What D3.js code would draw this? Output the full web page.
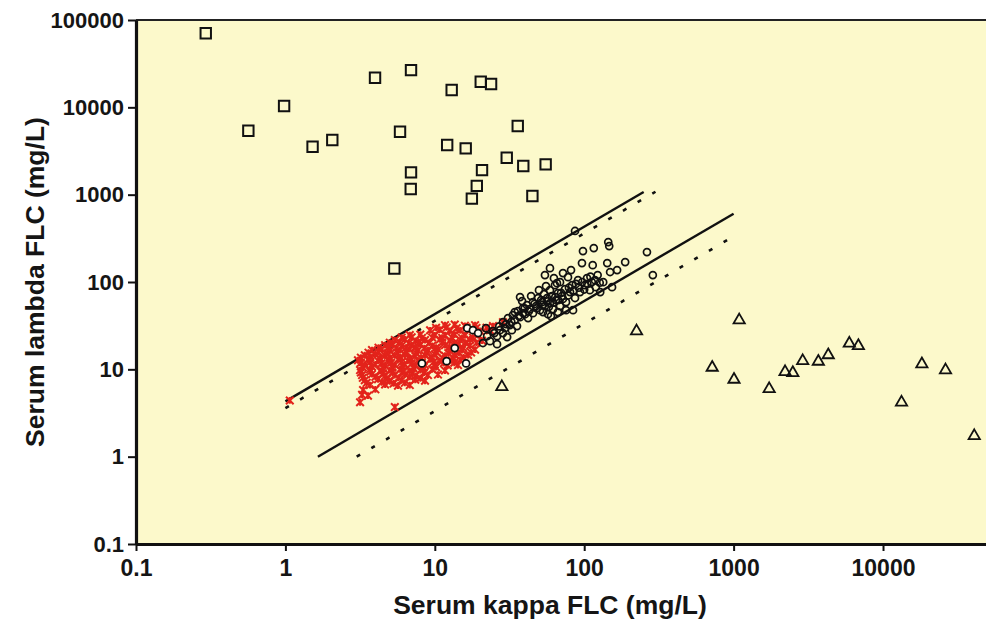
<!DOCTYPE html>
<html><head><meta charset="utf-8">
<script src="https://cdn.jsdelivr.net/npm/d3@7"></script>
<style>
html,body{margin:0;padding:0;background:#fff;}
svg{display:block;}
text{font-family:"Liberation Sans",Arial,sans-serif;font-weight:bold;fill:#151515;}
</style></head><body>
<svg id="chart" width="986" height="628"></svg>
<script>
// ---------- data ----------
const xTicks = [0.1, 1, 10, 100, 1000, 10000];
const xTickLabels = ["0.1", "1", "10", "100", "1000", "10000"];
const yTicks = [0.1, 1, 10, 100, 1000, 10000, 100000];
const yTickLabels = ["0.1", "1", "10", "100", "1000", "10000", "100000"];
const xTitle = "Serum kappa FLC (mg/L)";
const yTitle = "Serum lambda FLC (mg/L)";
const xDomain = [0.1, 48900];
const yDomain = [0.1, 100000];

// reference range lines [kappa, lambda]
const upperSolid = [[1, 4.3], [250, 1075]];
const lowerSolid = [[1.65, 1], [1000, 606]];
const upperDotted = [[1, 3.6], [300, 1080]];
const lowerDotted = [[3, 1], [1000, 333]];

// lambda myeloma (squares)
const lambdaSquares = [
  [0.293, 70500], [0.565, 5400], [0.98, 10350], [1.52, 3540], [2.06, 4220],
  [3.98, 21800], [6.93, 26700], [5.85, 5250], [6.93, 1800], [6.9, 1160],
  [12.97, 15800], [20.3, 19600], [23.8, 18500], [12.1, 3700], [16.1, 3390],
  [20.7, 1910], [19.1, 1260], [17.7, 900], [5.36, 143], [35.9, 6110],
  [30.3, 2650], [39.1, 2130], [55.2, 2220], [45.0, 964]
];

// kappa myeloma (triangles)
const kappaTriangles = [
  [224, 27.4], [28.1, 6.3], [1090, 36.6], [719, 10.5], [1006, 7.65],
  [1730, 5.98], [2210, 9.35], [2490, 9.12], [2900, 12.5], [3690, 12.3],
  [4300, 14.6], [5950, 19.8], [6840, 18.6], [13300, 4.18], [18200, 11.5],
  [26200, 9.8], [40800, 1.73]
];

// normal sera (red crosses)
const normalCrosses = [
  [11.7,32],[13.6,32.5],[15.9,31.5],[18.6,32],
  [10.2,29.9],[12.0,30.2],[14.0,29.6],[16.3,30.1],[19.0,29.8],[22.2,30],
  [9.3,28],[10.8,28.5],[12.6,27.5],[14.8,28],[17.2,28.5],[20.1,27.5],[23.4,28],
  [6.8,24.7],[8.0,25],[10,24.5],[11.7,24.7],[13.6,25],[15.9,24.5],[19.5,24.7],
  [6.0,23.1],[7.0,23.3],[8.2,22.9],[9.6,23.2],[11.2,23],[13.0,23.2],[15.2,22.9],[18.0,23.1],
  [5.4,21.6],[6.3,22],[7.4,21.2],[8.6,21.6],[10.8,22],[12.6,21.2],[14.8,21.6],[17.2,22],[20.7,21.3],
  [5.0,20.2],[5.8,20.4],[6.7,20],[7.8,20.3],[9.2,20.1],[11.2,20.3],[13.5,20],[16.0,20.2],[19.0,20.1],
  [4.65,18.9],[5.25,19.3],[6.0,18.6],[7.0,18.9],[8.0,19.3],[9.6,18.6],[11.7,18.9],[14.3,19.2],[17.2,18.7],
  [4.2,17.7],[4.9,17.9],[5.5,17.5],[6.4,17.7],[7.4,17.9],[8.5,17.5],[10.2,17.7],[12.5,17.9],[15.5,17.6],
  [3.8,16.6],[4.4,16.9],[5.0,16.3],[5.85,16.6],[6.8,17],[7.7,16.4],[9.0,16.6],[10.5,16.9],[12.6,16.3],[15.2,16.6],[18.6,16.8],
  [3.6,15.5],[4.2,15.7],[4.8,15.3],[5.6,15.5],[6.5,15.7],[7.5,15.3],[8.8,15.5],[10.3,15.7],[12.3,15.3],[14.5,15.5],[17.5,15.6],
  [3.4,14.5],[4.0,14.8],[4.65,14.3],[5.4,14.5],[6.3,14.8],[7.4,14.2],[8.6,14.5],[10,14.8],[11.7,14.3],[13.6,14.5],[16.7,14.6],
  [3.2,13.6],[3.7,13.8],[4.3,13.4],[5.0,13.6],[5.9,13.8],[6.9,13.4],[8.1,13.6],[9.6,13.8],[11.3,13.4],[13.3,13.6],[15.6,13.7],
  [3.06,12.7],[3.57,13],[4.17,12.5],[4.86,12.7],[5.67,13],[6.6,12.5],[7.7,12.7],[9.3,13],[10.8,12.5],[13.0,12.7],[14.8,12.9],
  [3.2,11.9],[3.7,12.1],[4.4,11.7],[5.1,11.9],[6.0,12.1],[7.0,11.7],[8.2,11.9],[9.8,12.1],[11.5,11.8],[13.5,11.9],
  [3.4,11.2],[4.0,11.4],[4.65,11],[5.4,11.2],[6.3,11.4],[7.4,11],[8.6,11.2],[10,11.4],[12.2,11.1],[14.3,11.2],
  [3.3,10.5],[3.8,10.7],[4.5,10.3],[5.2,10.5],[6.1,10.7],[7.2,10.3],[8.4,10.5],[10.2,10.6],
  [3.16,9.8],[3.68,10],[4.3,9.6],[5.0,9.8],[5.85,10],[6.8,9.6],[8.0,9.8],[9.6,10],[11.7,9.7],
  [3.2,9.2],[3.7,9.4],[4.5,9.0],[5.2,9.2],[6.1,9.4],[7.1,9.0],[8.5,9.2],
  [3.26,8.6],[3.8,8.8],[4.65,8.4],[5.4,8.6],[6.3,8.8],[7.4,8.4],[9.0,8.6],[10.5,8.7],
  [3.3,8.0],[4.0,8.2],[4.8,7.8],[5.7,8.0],[6.8,8.2],[8.0,7.9],
  [3.4,7.5],[4.17,7.7],[5.0,7.3],[6.0,7.5],[7.4,7.6],[8.6,7.4],
  [3.5,7.0],[4.4,7.1],[5.3,6.9],[6.3,7.0],
  [3.68,6.6],[4.65,6.7],[5.67,6.5],[6.8,6.6],
  [3.31,5.8],[4.0,5.9],[3.26,5.1],[3.57,5.0],[3.16,4.2],
  [1.07,4.4],[5.4,3.7],[28.6,34.7],[24.5,31.3]
];

// other sera (black open circles)
const otherCircles = [
  [8.2,11.7],[12.0,12.4],[13.6,17.5],[16.2,11.7],[16.5,29.6],[18.0,28.1],[19.5,26.0],[21.0,20.0],
  [22.4,24.0],[23.4,21.0],[24.5,27.4],[26.1,24.0],[27.3,28.1],[28.6,34.7],[29.5,29.6],[30.9,38.6],
  [31.8,32.1],[33.3,41.7],[34.3,36.6],[36.0,46.4],[37.2,67.2],[37.2,39.6],[38.9,50.2],[40.2,42.8],
  [41.4,54.4],[42.1,38.6],[43.4,48.9],[45.4,58.9],[45.4,44.0],[47.6,53.0],[49.1,65.5],[50.6,47.6],
  [52.2,58.9],[53.8,72.6],[54.6,53.0],[56.4,65.5],[57.2,42.8],[59.0,80.7],[59.0,57.4],[60.8,69.0],
  [61.8,48.9],[63.7,92.0],[64.7,62.1],[66.7,74.6],[68.9,53.0],[68.9,99.6],[71.0,69.0],[74.4,82.9],
  [75.6,58.9],[77.9,113.6],[80.4,76.6],[82.9,92.0],[84.2,47.6],[86.8,65.5],[90.9,105],[93.7,76.6],
  [96.6,164.5],[98.1,226],[101,92.0],[104.4,110.7],[109,80.7],[112.4,99.6],[114,156],[115.9,244.5],
  [119.6,87.3],[123,120],[128,76.6],[142.6,164.5],[144.8,286.5],[149,130],[153.6,87.3],[166,137],
  [188,168.9],[263,220],[288,120],[86.8,384],[59,144],[54.6,120],[65.7,97],[134,99.6],[147,258],
  [34.3,45.2],[38.4,60.5],[44.1,69.0],[49.8,80.7],[55.5,89.7],[62.7,110.7],[72.1,126.6],[81.6,137],
  [53.0,45.2],[59.9,40.7],[66.7,45.2],[75.6,47.6],[28.6,26.0],[26.1,19.4],[30.5,23.4],[32.8,28.1],
  [35.5,31.3],[22.0,29.6],
  [40,50],[42.5,46],[46.5,56],[48,50],[51.5,62],[53,55],[57,60],[58,52],[62,58],[64,67],
  [67,62],[70,75],[72,64],[78,70],[79,86],[85,80],[88,95],[92,86],[97,100],[100,82],
  [105,95],[110,115],[118,105],[127,98],[30,33],[32.5,35],[27,31],[25,26],[36.5,41],[39,44]
];

// ---------- drawing ----------
const svg = d3.select("#chart");
const x = d3.scaleLog().domain(xDomain).range([136, 986]);
const y = d3.scaleLog().domain(yDomain).range([544, 20]);

svg.append("rect").attr("x", 0).attr("y", 0).attr("width", 986).attr("height", 628).attr("fill", "#ffffff");
svg.append("rect")
  .attr("x", x(xDomain[0])).attr("y", y(yDomain[1]))
  .attr("width", x(xDomain[1]) - x(xDomain[0]))
  .attr("height", y(yDomain[0]) - y(yDomain[1]))
  .attr("fill", "#fcf9cb");

// top border
svg.append("line")
  .attr("x1", x(xDomain[0])).attr("x2", x(xDomain[1]))
  .attr("y1", y(yDomain[1])).attr("y2", y(yDomain[1]))
  .attr("stroke", "#222").attr("stroke-width", 2);

const line = d3.line().x(d => x(d[0])).y(d => y(d[1]));
const g = svg.append("g");
[[upperSolid, null], [lowerSolid, null], [upperDotted, "4,13"], [lowerDotted, "4,13"]].forEach(([data, dash]) => {
  const p = g.append("path").datum(data).attr("d", line)
    .attr("fill", "none").attr("stroke", "#111").attr("stroke-width", dash ? 2.6 : 2.4);
  if (dash) p.attr("stroke-dasharray", dash);
});

// red crosses
g.selectAll(".nc").data(normalCrosses).join("path")
  .attr("class", "nc")
  .attr("transform", d => `translate(${x(d[0])},${y(d[1])})`)
  .attr("d", "M-3.8,-3.8L3.8,3.8M-3.8,3.8L3.8,-3.8M0,-3.4L0,3.4")
  .attr("stroke", "#e3231b").attr("stroke-width", 2).attr("fill", "none");

// black circles
g.selectAll(".oc").data(otherCircles).join("circle")
  .attr("class", "oc")
  .attr("cx", d => x(d[0])).attr("cy", d => y(d[1])).attr("r", 3.5)
  .attr("fill", "#fffef2").attr("fill-opacity", d => d[0] < 20 ? 1 : 0)
  .attr("stroke", "#111").attr("stroke-width", 1.7);

// squares
g.selectAll(".sq").data(lambdaSquares).join("path")
  .attr("class", "sq")
  .attr("transform", d => `translate(${x(d[0])},${y(d[1])})`)
  .attr("d", d3.symbol(d3.symbolSquare, 108))
  .attr("fill", "none").attr("stroke", "#111").attr("stroke-width", 2);

// triangles
g.selectAll(".tr").data(kappaTriangles).join("path")
  .attr("class", "tr")
  .attr("transform", d => `translate(${x(d[0])},${y(d[1])})`)
  .attr("d", d3.symbol(d3.symbolTriangle, 55))
  .attr("fill", "none").attr("stroke", "#111").attr("stroke-width", 1.8);

// axes
const yAxis = svg.append("g").attr("transform", `translate(${x(xDomain[0])},0)`)
  .call(d3.axisLeft(y).tickValues(yTicks).tickFormat((d, i) => yTickLabels[i]).tickSize(8).tickSizeOuter(0).tickPadding(4));
const xAxis = svg.append("g").attr("transform", `translate(0,${y(yDomain[0])})`)
  .call(d3.axisBottom(x).tickValues(xTicks).tickFormat((d, i) => xTickLabels[i]).tickSize(7).tickSizeOuter(0).tickPadding(9));
[yAxis, xAxis].forEach(a => {
  a.select(".domain").attr("stroke", "#111").attr("stroke-width", 3.2);
  a.selectAll(".tick line").attr("stroke", "#111").attr("stroke-width", 2);
  a.selectAll("text").attr("font-family", "'Liberation Sans', Arial, sans-serif")
    .attr("font-weight", "bold").attr("fill", "#151515");
});
yAxis.selectAll("text").attr("font-size", 22);
xAxis.selectAll("text").attr("font-size", 23);

svg.append("text").attr("x", 550).attr("y", 614)
  .attr("text-anchor", "middle").attr("font-size", 26.5).text(xTitle);
svg.append("text").attr("transform", "translate(44,282) rotate(-90)")
  .attr("text-anchor", "middle").attr("font-size", 26.5).text(yTitle);
</script>
</body></html>
